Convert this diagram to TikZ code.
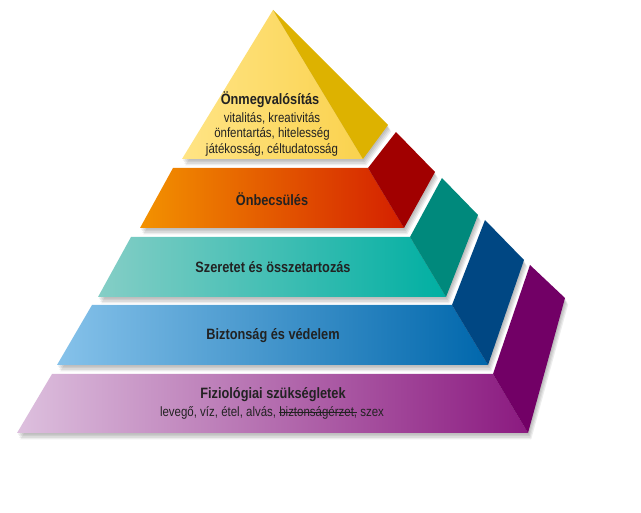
\documentclass[tikz,border=0pt]{standalone}
\usepackage{fontspec}
\setmainfont{Liberation Sans}[FakeStretch=0.85]
\newsavebox\strkbox
\newcommand\strk[1]{\sbox\strkbox{#1}\rlap{\raisebox{0.3em}{\rule{\wd\strkbox}{0.9pt}}}\usebox\strkbox}
\definecolor{ylwA}{HTML}{FFE485}
\definecolor{ylwB}{HTML}{FAD24E}
\definecolor{ylwS}{HTML}{DDB200}
\definecolor{orA}{HTML}{F39200}
\definecolor{orB}{HTML}{D42000}
\definecolor{orS}{HTML}{A10000}
\definecolor{tlA}{HTML}{85CEC6}
\definecolor{tlB}{HTML}{00AFA2}
\definecolor{tlS}{HTML}{00897C}
\definecolor{blA}{HTML}{86C2EA}
\definecolor{blB}{HTML}{0067AC}
\definecolor{blS}{HTML}{004783}
\definecolor{puA}{HTML}{DDC0DE}
\definecolor{puB}{HTML}{8B1A80}
\definecolor{puS}{HTML}{720066}
\definecolor{txt}{HTML}{222222}
\newcommand\outA{(273,10) -- (388,125) -- (363,159) -- (182,159) -- cycle}
\newcommand\outB{(173,168) -- (368,168) -- (396,132) -- (435,172) -- (404,228) -- (140,228) -- cycle}
\newcommand\outC{(131,237) -- (410,237) -- (442,178) -- (478,215) -- (446,297) -- (98,297) -- cycle}
\newcommand\outD{(92,305) -- (452,305) -- (485,220) -- (524,260) -- (488,365) -- (57,365) -- cycle}
\newcommand\outE{(52,374) -- (493,374) -- (530,265) -- (565,298) -- (528,433) -- (17,433) -- cycle}
\begin{document}
\begin{tikzpicture}[x=1pt,y=-1pt,
  shadowlayer/.style={fill=black,fill opacity=0.07},
  ttl/.style={font=\bfseries\fontsize{15}{18}\selectfont, text=txt, inner sep=0pt},
  sub/.style={font=\fontsize{13.5}{16}\selectfont, text=txt, inner sep=0pt}]
\useasboundingbox (0,0) rectangle (641,513);
% shadows
\foreach \s in {1,2,3,4} {
  \fill[shadowlayer, shift={(\s*0.8,\s*1.6)}] \outA;
  \fill[shadowlayer, shift={(\s*0.8,\s*1.6)}] \outB;
  \fill[shadowlayer, shift={(\s*0.8,\s*1.6)}] \outC;
  \fill[shadowlayer, shift={(\s*0.8,\s*1.6)}] \outD;
  \fill[shadowlayer, shift={(\s*0.8,\s*1.6)}] \outE;
}
% tier 1
\shade[left color=ylwA, right color=ylwB] (273,10) -- (182,159) -- (363,159) -- cycle;
\fill[ylwS] (273,10) -- (388,125) -- (363,159) -- cycle;
% tier 2
\shade[left color=orA, right color=orB] (173,168) -- (368,168) -- (404,228) -- (140,228) -- cycle;
\fill[orS] (368,168) -- (396,132) -- (435,172) -- (404,228) -- cycle;
% tier 3
\shade[left color=tlA, right color=tlB] (131,237) -- (410,237) -- (446,297) -- (98,297) -- cycle;
\fill[tlS] (410,237) -- (442,178) -- (478,215) -- (446,297) -- cycle;
% tier 4
\shade[left color=blA, right color=blB] (92,305) -- (452,305) -- (488,365) -- (57,365) -- cycle;
\fill[blS] (452,305) -- (485,220) -- (524,260) -- (488,365) -- cycle;
% tier 5
\shade[left color=puA, right color=puB] (52,374) -- (493,374) -- (528,433) -- (17,433) -- cycle;
\fill[puS] (493,374) -- (530,265) -- (565,298) -- (528,433) -- cycle;
% texts
\node[ttl] (t1) at (270,100) {Önmegvalósítás};
\node[sub] (t1a) at (272,118) {vitalitás, kreativitás};
\node[sub] (t1b) at (272,134) {önfentartás, hitelesség};
\node[sub] (t1c) at (272,150) {játékosság, céltudatosság};
\node[ttl] (t2) at (272,199) {Önbecsülés};
\node[ttl] (t3) at (273,267) {Szeretet és összetartozás};
\node[ttl] (t4) at (273,336) {Biztonság és védelem};
\node[ttl] (t5) at (273,395) {Fiziológiai szükségletek};
\node[sub] (t5a) at (272,413) {levegő, víz, étel, alvás, \strk{biztonságérzet,} szex};
\end{tikzpicture}
\end{document}
